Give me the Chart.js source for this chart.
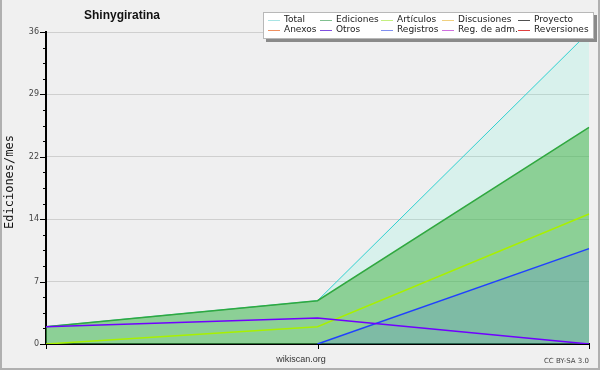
<!DOCTYPE html>
<html><head><meta charset="utf-8">
<script src="https://cdn.jsdelivr.net/npm/chart.js@4.4.0/dist/chart.umd.min.js"></script>
<style>html,body{margin:0;padding:0;background:#f0f0f0;}#wrap{width:600px;height:370px;position:relative}</style>
</head><body><div id="wrap"><canvas id="c" width="600" height="370"></canvas></div>
<script>
const categories = ['m1', 'm2', 'm3'];
const seriesNames = ['Total','Ediciones','Artículos','Discusiones','Proyecto','Anexos','Otros','Registros','Reg. de adm.','Reversiones'];
const total = [2, 5, 36];
const ediciones = [2, 5, 25];
const articulos = [0, 2, 15];
const discusiones = [null, null, null];
const proyecto = [null, null, null];
const anexos = [null, null, null];
const otros = [2, 3, 0];
const registros = [null, 0, 11];
const regAdm = [null, null, null];
const reversiones = [null, null, null];
const yTickLabels = ['0', '7', '14', '22', '29', '36'];
const yMax = 36;

const seriesData = [total, ediciones, articulos, discusiones, proyecto, anexos, otros, registros, regAdm, reversiones];
const lineColors = ['#30d0d0','#30a840','#a8f000','#f0c040','#404040','#f08040','#7000ff','#2040ff','#c040e0','#e02020'];
const legendColors = ['#a8e4e4','#80c090','#c4f080','#f0d080','#505050','#f09060','#8050e0','#8090f0','#d070e0','#e04040'];
const fills = ['rgba(100,255,215,0.16)','rgba(64,176,64,0.5)',false,false,false,false,false,'rgba(48,64,255,0.15)',false,false];
const orders = [9,8,3,4,5,6,1,2,7,0];
const widths = [1,1.5,1.5,1.5,1.5,1.5,1.5,1.5,1.5,1.5];

const datasets = seriesNames.map((n,i)=>({
  label: n,
  data: seriesData[i],
  borderColor: lineColors[i],
  backgroundColor: fills[i] || 'transparent',
  fill: fills[i] ? 'origin' : false,
  borderWidth: widths[i],
  pointRadius: 0,
  tension: 0,
  order: orders[i],
  spanGaps: false
}));

const deco = {
  id: 'deco',
  beforeDraw(chart) {
    const c = chart.ctx, a = chart.chartArea;
    c.save();
    c.fillStyle = '#f0f0f0';
    c.fillRect(0,0,600,370);
    c.fillStyle = '#efeff0';
    c.fillRect(a.left, a.top, a.right-a.left, a.bottom-a.top);
    c.restore();
  },
  afterDraw(chart) {
    const c = chart.ctx, a = chart.chartArea;
    const ys = chart.scales.y, xs = chart.scales.x;
    c.save();
    c.strokeStyle = '#000'; c.lineWidth = 1;
    ys.ticks.forEach((t,i)=>{
      const y = Math.round(ys.getPixelForValue(t.value)) + 0.5;
      const len = (i % 4 === 0) ? 6 : 3;
      c.beginPath(); c.moveTo(a.left - len, y); c.lineTo(a.left, y); c.stroke();
    });
    categories.forEach((cat,i)=>{
      const x = Math.round(xs.getPixelForValue(i)) + 0.5;
      c.beginPath(); c.moveTo(x, a.bottom); c.lineTo(x, a.bottom + 5); c.stroke();
    });
    c.fillStyle = '#111';
    c.font = 'bold 12px "Liberation Sans"';
    c.textAlign = 'center'; c.textBaseline = 'middle';
    c.fillText('Shinygiratina', 122, 16);
    c.save();
    c.translate(10, 182);
    c.rotate(-Math.PI/2);
    c.font = '12px "DejaVu Sans Mono"';
    c.fillStyle = '#111';
    c.fillText('Ediciones/mes', 0, 0);
    c.restore();
    c.font = '9px "Liberation Sans"';
    c.fillStyle = '#333';
    c.textAlign = 'center';
    c.fillText('wikiscan.org', 301, 360);
    c.font = '7px "DejaVu Sans"';
    c.fillStyle = '#444';
    c.textAlign = 'right';
    c.fillText('CC BY-SA 3.0', 589, 361);
    c.fillStyle = '#8a8a8a';
    c.fillRect(266, 15, 331, 27);
    c.fillStyle = '#ffffff';
    c.fillRect(263, 12, 331, 27);
    c.strokeStyle = '#b8b8b8';
    c.strokeRect(263.5, 12.5, 330, 26);
    const cols = [268, 320, 381, 442, 518];
    const rows = [19.5, 29.5];
    c.font = '9px "DejaVu Sans"';
    c.textAlign = 'left'; c.textBaseline = 'middle';
    seriesNames.forEach((n,i)=>{
      const col = i % 5, row = Math.floor(i/5);
      const x = cols[col], y = rows[row];
      c.strokeStyle = legendColors[i];
      c.lineWidth = 1;
      c.beginPath(); c.moveTo(x, Math.round(y)+0.5); c.lineTo(x+12, Math.round(y)+0.5); c.stroke();
      c.fillStyle = '#222';
      c.fillText(n, x + 16, y);
    });
    c.fillStyle = '#b0b0b0';
    c.fillRect(0,0,2,370);
    c.fillRect(598,0,2,370);
    c.fillRect(0,368,600,2);
    c.restore();
  }
};

new Chart(document.getElementById('c'), {
  type: 'line',
  data: { labels: categories, datasets },
  options: {
    responsive: false,
    animation: false,
    devicePixelRatio: 1,
    layout: { padding: { top: 32, right: 11, left: 0, bottom: 0 } },
    plugins: { legend: { display: false }, tooltip: { enabled: false }, title: { display: false } },
    scales: {
      x: {
        type: 'category',
        offset: false,
        afterFit(s) { s.height = 26; },
        grid: { drawOnChartArea: false, drawTicks: false },
        border: { color: '#000', width: 2 },
        ticks: { callback: () => '' }
      },
      y: {
        min: 0, max: yMax,
        afterFit(s) { s.width = 46; },
        afterBuildTicks(s) {
          const t = [];
          for (let i = 0; i <= 20; i++) t.push({ value: +(i * yMax / 20).toFixed(4) });
          s.ticks = t;
        },
        grid: {
          drawTicks: false,
          color: (ctx) => (ctx.index % 4 === 0 && ctx.index !== 0) ? '#cfcfcf' : 'rgba(0,0,0,0)',
          lineWidth: 1
        },
        border: { color: '#000', width: 2 },
        ticks: {
          autoSkip: false,
          padding: 7,
          color: '#444',
          font: { family: 'DejaVu Sans', size: 8 },
          callback: (v, i) => (i % 4 === 0) ? yTickLabels[i / 4] : ''
        }
      }
    }
  },
  plugins: [deco]
});
</script></body></html>
